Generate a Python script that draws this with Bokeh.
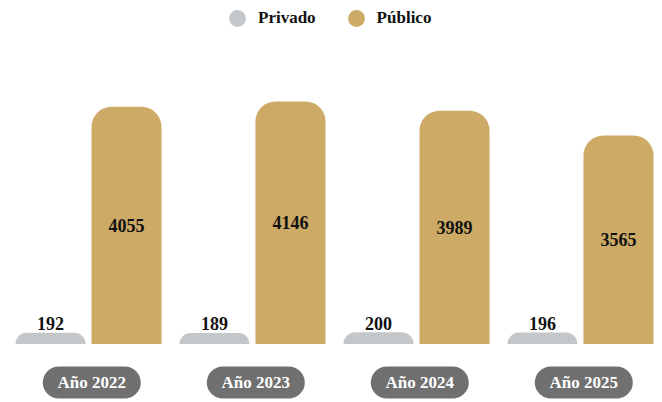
from bokeh.plotting import figure
from bokeh.models import ColumnDataSource, Range1d, Legend, LegendItem
from bokeh.transform import dodge
from bokeh.core.properties import value
from bokeh.embed import file_html
from bokeh.resources import INLINE

years = ["Año 2022", "Año 2023", "Año 2024", "Año 2025"]
privado = [192, 189, 200, 196]
publico = [4055, 4146, 3989, 3565]

GOLD = "#CDAA66"
GRAY = "#C4C7CA"
PILL = "#707070"
FONT = value("Liberation Serif")

src = ColumnDataSource(dict(
    x=list(range(len(years))),
    year=years,
    privado=privado,
    publico=publico,
    privado_lbl=[str(v) for v in privado],
    publico_lbl=[str(v) for v in publico],
    publico_mid=[v / 2 for v in publico],
    pill_y=[-658] * len(years),
))

p = figure(width=662, height=402, output_backend="svg", toolbar_location=None,
           x_range=Range1d(-0.5366, 3.5), y_range=Range1d(-1000, 5872),
           min_border=0)
p.xaxis.visible = False
p.yaxis.visible = False
p.grid.visible = False
p.outline_line_color = None
p.background_fill_color = "white"
p.border_fill_color = "white"

bw = 0.427
off = 0.2317
p.vbar(x=dodge("x", -off), top="privado", bottom=0, width=bw, source=src,
       fill_color=GRAY, line_color=None, border_radius=(20, 20, 0, 0))
p.vbar(x=dodge("x", off), top="publico", bottom=0, width=bw, source=src,
       fill_color=GOLD, line_color=None, border_radius=(20, 20, 0, 0))

p.text(x=dodge("x", -off), y="privado", text="privado_lbl", source=src,
       text_align="center", text_baseline="alphabetic", y_offset=-9,
       text_font=FONT, text_font_style="bold", text_font_size="18px", text_color="#111111")
p.text(x=dodge("x", off), y="publico_mid", text="publico_lbl", source=src,
       text_align="center", text_baseline="middle",
       text_font=FONT, text_font_style="bold", text_font_size="18px", text_color="#111111")

# category pills
p.rect(x=dodge("x", 0.02), y="pill_y", width=98, height=32, width_units="screen",
       height_units="screen", source=src, fill_color=PILL, line_color=None,
       border_radius=16)
p.text(x=dodge("x", 0.02), y="pill_y", text="year", source=src,
       text_align="center", text_baseline="middle",
       text_font=FONT, text_font_style="bold", text_font_size="17px", text_color="white")

# legend (proxy renderers placed outside the visible range)
hidden = ColumnDataSource(dict(x=[-100], y=[-100000]))
r1 = p.scatter("x", "y", source=hidden, marker="circle", fill_color=GRAY, line_color=None)
r2 = p.scatter("x", "y", source=hidden, marker="circle", fill_color=GOLD, line_color=None)
legend = Legend(items=[LegendItem(label="Privado", renderers=[r1]),
                       LegendItem(label="Público", renderers=[r2])],
                orientation="horizontal", location=(216, 363),
                glyph_width=42, glyph_height=42, label_standoff=0, spacing=19,
                padding=0, margin=0, border_line_alpha=0, background_fill_alpha=0,
                label_text_font="Liberation Serif", label_text_font_style="bold",
                label_text_font_size="17px", label_text_color="#111111")
p.add_layout(legend, "center")

open("out.html", "w").write(file_html(p, INLINE))
